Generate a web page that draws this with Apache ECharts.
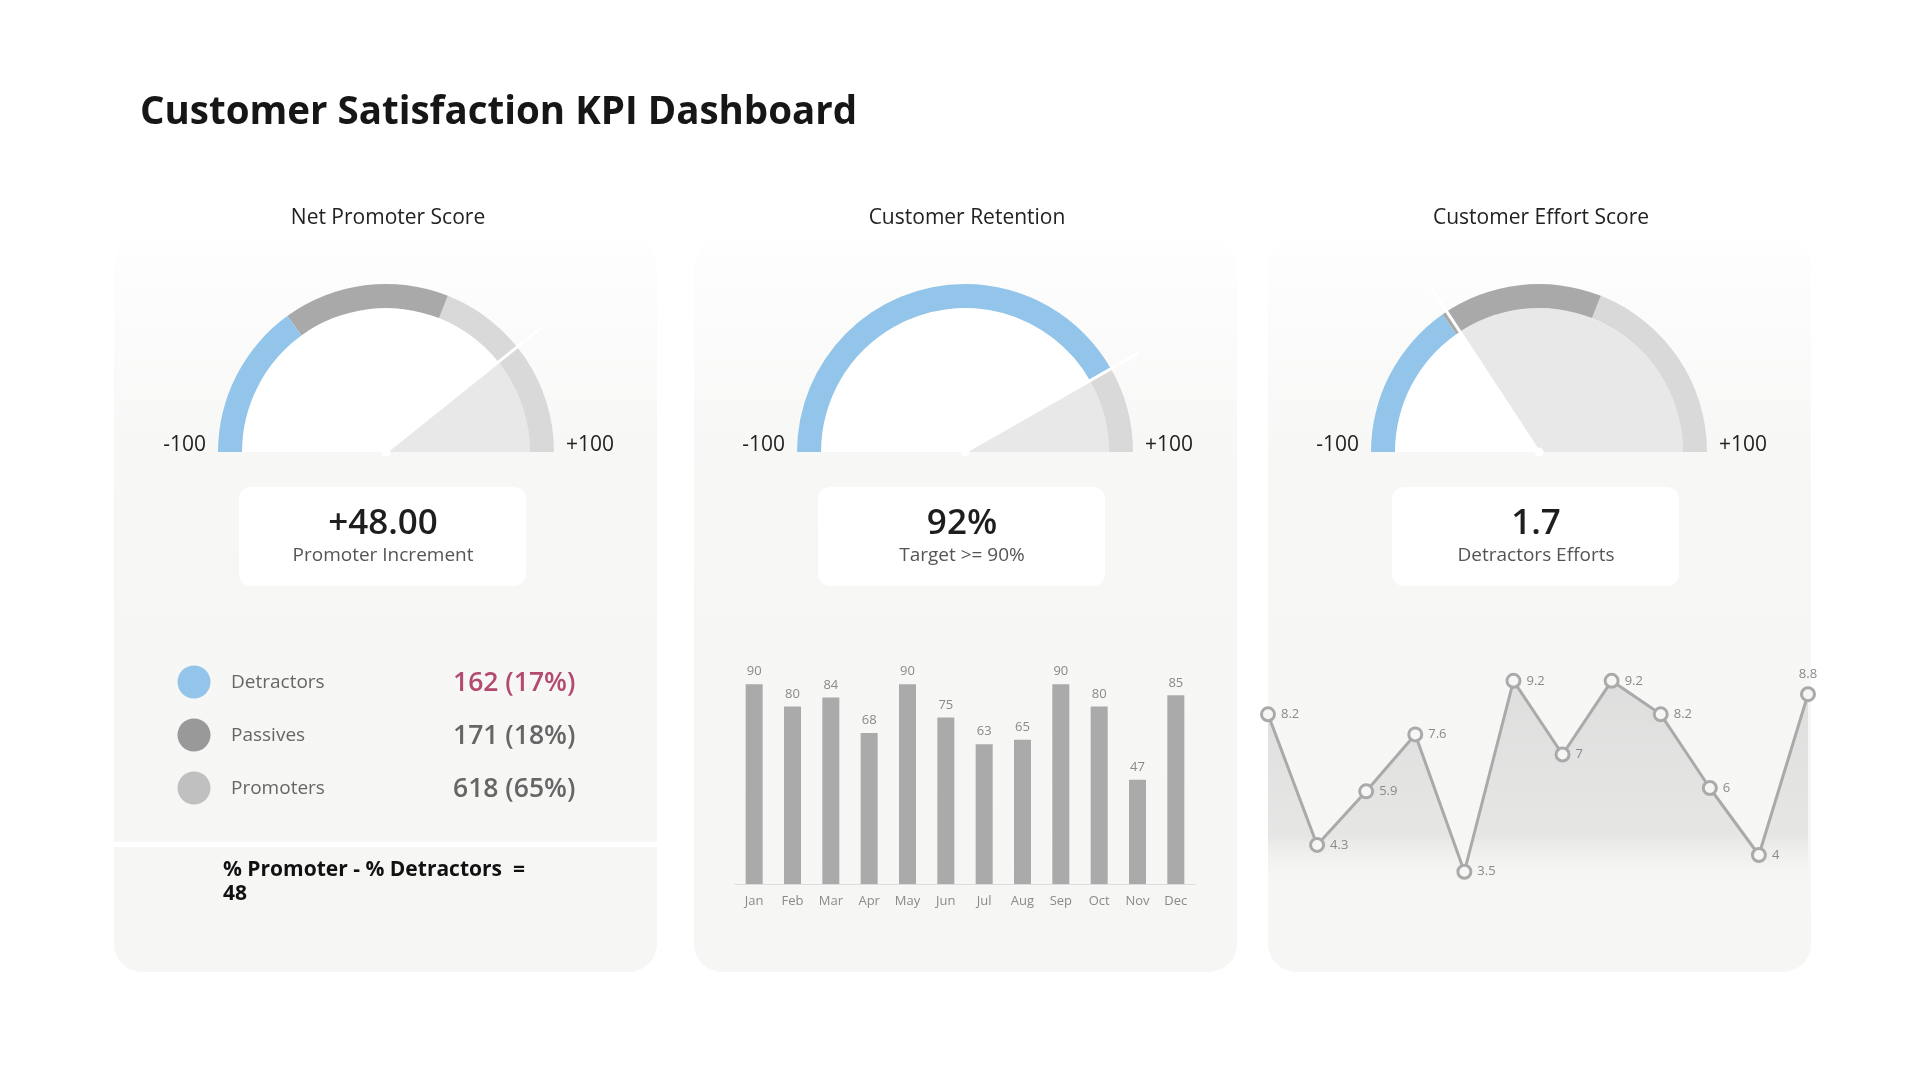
<!DOCTYPE html>
<html>
<head>
<meta charset="utf-8">
<script src="https://cdn.jsdelivr.net/npm/echarts/dist/echarts.min.js"></script>
<style>
html,body{margin:0;padding:0;background:#ffffff;}
#chart{width:1920px;height:1080px;}
</style>
</head>
<body>
<div id="chart"></div>
<script>
// ---------- data ----------
const pageTitle = 'Customer Satisfaction KPI Dashboard';
const panelTitles = ['Net Promoter Score', 'Customer Retention', 'Customer Effort Score'];
const gaugeMin = -100;
const gaugeMax = 100;
const gaugeMinLabel = '-100';
const gaugeMaxLabel = '+100';
// upper bound of each coloured band of the gauge rings (on the -100..+100 scale)
const npsBands = [-40, 24, 100];
const retentionBands = [67, 100];
const effortBands = [-39, 24, 100];
// needle positions (-100..+100 scale)
const npsNeedle = 57;
const retentionNeedle = 67;
const effortNeedle = -37;
const kpiValues = ['+48.00', '92%', '1.7'];
const kpiCaptions = ['Promoter Increment', 'Target >= 90%', 'Detractors Efforts'];
const npsGroups = ['Detractors', 'Passives', 'Promoters'];
const npsCounts = [162, 171, 618];
const npsShares = [17, 18, 65];
const npsFormula = ['% Promoter - % Detractors  =', '48'];
const months = ['Jan', 'Feb', 'Mar', 'Apr', 'May', 'Jun', 'Jul', 'Aug', 'Sep', 'Oct', 'Nov', 'Dec'];
const retentionByMonth = [90, 80, 84, 68, 90, 75, 63, 65, 90, 80, 47, 85];
const effortByMonth = [8.2, 4.3, 5.9, 7.6, 3.5, 9.2, 7, 9.2, 8.2, 6, 4, 8.8];

// ---------- styling ----------
const BLUE = '#93c5ea', DARK = '#a9a9a9', LIGHT = '#d9d9d9', WEDGE = '#e8e8e8';
const FONT = '"Open Sans", "Noto Sans", sans-serif';
const panels = [{x: 114, cx: 386}, {x: 694, cx: 965}, {x: 1268, cx: 1539}];
const PW = 543, PTOP = 238, PH = 734;
const GCY = 452, R_OUT = 168, R_IN = 144;
const gaugeDefs = [
  {bands: npsBands, colors: [BLUE, DARK, LIGHT], needle: npsNeedle},
  {bands: retentionBands, colors: [BLUE, LIGHT], needle: retentionNeedle},
  {bands: effortBands, colors: [BLUE, DARK, LIGHT], needle: effortNeedle}
];

const chart = echarts.init(document.getElementById('chart'), null, {renderer: 'canvas'});

const graphic = [];
// title
graphic.push({type: 'text', z: 10, style: {text: pageTitle, x: 140, y: 113, font: 'bold 38.5px ' + FONT, fill: '#161616', verticalAlign: 'middle'}});
panels.forEach((p, i) => {
  graphic.push({
    type: 'rect', z: 0,
    shape: {x: p.x, y: PTOP, width: PW, height: PH, r: 28},
    style: {fill: new echarts.graphic.LinearGradient(0, 0, 0, 1, [
      {offset: 0, color: '#fefefe'}, {offset: 0.3, color: '#f7f7f6'}, {offset: 1, color: '#f6f6f4'}])}
  });
  graphic.push({type: 'text', z: 10, style: {text: panelTitles[i], x: p.cx + 2, y: 218, font: '21px ' + FONT, fill: '#222', align: 'center', verticalAlign: 'middle'}});
  graphic.push({type: 'text', z: 10, style: {text: gaugeMinLabel, x: p.cx - R_OUT - 12, y: 445, font: '21px ' + FONT, fill: '#222', align: 'right', verticalAlign: 'middle'}});
  graphic.push({type: 'text', z: 10, style: {text: gaugeMaxLabel, x: p.cx + R_OUT + 12, y: 445, font: '21px ' + FONT, fill: '#222', align: 'left', verticalAlign: 'middle'}});
  // KPI box
  graphic.push({type: 'rect', z: 5, shape: {x: p.cx - 147, y: 487, width: 287, height: 99, r: 12}, style: {fill: '#ffffff'}});
  graphic.push({type: 'text', z: 10, style: {text: kpiValues[i], x: p.cx - 3, y: 524, font: '600 35px ' + FONT, fill: '#1e1e1e', align: 'center', verticalAlign: 'middle'}});
  graphic.push({type: 'text', z: 10, style: {text: kpiCaptions[i], x: p.cx - 3, y: 556, font: '19px ' + FONT, fill: '#555', align: 'center', verticalAlign: 'middle'}});
});
// NPS divider
graphic.push({type: 'rect', z: 2, shape: {x: 114, y: 842, width: PW, height: 5}, style: {fill: '#ffffff'}});
// NPS legend
const legendColors = ['#93c5ea', '#999999', '#c0c0c0'];
const valueColors = ['#b34a70', '#666666', '#666666'];
npsGroups.forEach((g, i) => {
  const y = 683 + i * 53;
  graphic.push({type: 'circle', z: 10, shape: {cx: 194, cy: y - 1, r: 16.5}, style: {fill: legendColors[i]}});
  graphic.push({type: 'text', z: 10, style: {text: g, x: 231, y: y, font: '19px ' + FONT, fill: '#666', verticalAlign: 'middle'}});
  graphic.push({type: 'text', z: 10, style: {text: npsCounts[i] + ' (' + npsShares[i] + '%)', x: 453, y: y, font: '600 26.5px ' + FONT, fill: valueColors[i], verticalAlign: 'middle'}});
});
graphic.push({type: 'text', z: 10, style: {text: npsFormula[0], x: 223, y: 870, font: 'bold 21px ' + FONT, fill: '#111', verticalAlign: 'middle'}});
graphic.push({type: 'text', z: 10, style: {text: npsFormula[1], x: 223, y: 894, font: 'bold 21px ' + FONT, fill: '#111', verticalAlign: 'middle'}});

const series = [];
gaugeDefs.forEach((g, i) => {
  const cx = panels[i].cx;
  const stops = g.bands.map((b, k) => [(b - gaugeMin) / (gaugeMax - gaugeMin), g.colors[k]]);
  // interior: white up to the needle, light wedge after it
  series.push({
    type: 'pie', z: 1, silent: true, animation: false,
    center: [cx, GCY], radius: [0, R_IN], startAngle: 180, clockwise: true,
    label: {show: false}, labelLine: {show: false}, emphasis: {disabled: true},
    itemStyle: {borderWidth: 0},
    data: [
      {value: g.needle - gaugeMin, itemStyle: {color: '#ffffff'}},
      {value: gaugeMax - g.needle, itemStyle: {color: WEDGE}},
      {value: gaugeMax - gaugeMin, itemStyle: {color: 'rgba(0,0,0,0)'}}
    ]
  });
  series.push({
    type: 'gauge', z: 3, silent: true, animation: false,
    center: [cx, GCY], radius: R_OUT, startAngle: 180, endAngle: 0,
    min: gaugeMin, max: gaugeMax,
    axisLine: {lineStyle: {width: R_OUT - R_IN, color: stops}},
    splitLine: {show: false}, axisTick: {show: false}, axisLabel: {show: false},
    pointer: {show: true, icon: 'rect', width: 3, length: 199, offsetCenter: [0, 0], itemStyle: {color: '#ffffff'}},
    anchor: {show: true, size: 9, showAbove: true, itemStyle: {color: '#ffffff'}},
    title: {show: false}, detail: {show: false},
    data: [{value: g.needle}]
  });
});

series.push({
  type: 'bar', xAxisIndex: 0, yAxisIndex: 0, animation: false,
  data: retentionByMonth, barWidth: 17,
  itemStyle: {color: '#aaaaaa'},
  label: {show: true, position: 'top', distance: 6, color: '#8a8a8a', fontSize: 13, fontFamily: FONT}
});
series.push({
  type: 'line', xAxisIndex: 1, yAxisIndex: 1, animation: false,
  data: effortByMonth.map((v, k) => k === effortByMonth.length - 1 ? {value: v, label: {position: 'top'}} : v),
  symbol: 'circle', symbolSize: 13,
  lineStyle: {color: '#aaaaaa', width: 3},
  itemStyle: {color: '#f6f6f4', borderColor: '#aaaaaa', borderWidth: 3},
  label: {show: true, position: 'right', distance: 5, color: '#8a8a8a', fontSize: 13, fontFamily: FONT},
  areaStyle: {color: new echarts.graphic.LinearGradient(0, 0, 0, 1, [
    {offset: 0, color: 'rgba(205,205,205,0.85)'},
    {offset: 0.5, color: 'rgba(215,215,215,0.75)'},
    {offset: 0.66, color: 'rgba(240,240,238,0)'},
    {offset: 1, color: 'rgba(246,246,244,0)'}])}
});

chart.setOption({
  backgroundColor: '#ffffff',
  animation: false,
  graphic: graphic,
  grid: [
    {left: 735, top: 662, width: 460, height: 222, containLabel: false},
    {left: 1268, top: 654, width: 540, height: 335, containLabel: false}
  ],
  xAxis: [
    {type: 'category', gridIndex: 0, data: months,
     axisLine: {lineStyle: {color: '#dcdcdc', width: 1}}, axisTick: {show: false},
     axisLabel: {color: '#8a8a8a', fontSize: 13, fontFamily: FONT, margin: 11, interval: 0}},
    {type: 'category', gridIndex: 1, data: months, boundaryGap: false, show: false}
  ],
  yAxis: [
    {type: 'value', gridIndex: 0, min: 0, max: 100, show: false, splitLine: {show: false}},
    {type: 'value', gridIndex: 1, min: 0, max: 10, show: false, splitLine: {show: false}}
  ],
  series: series
});
</script>
</body>
</html>
